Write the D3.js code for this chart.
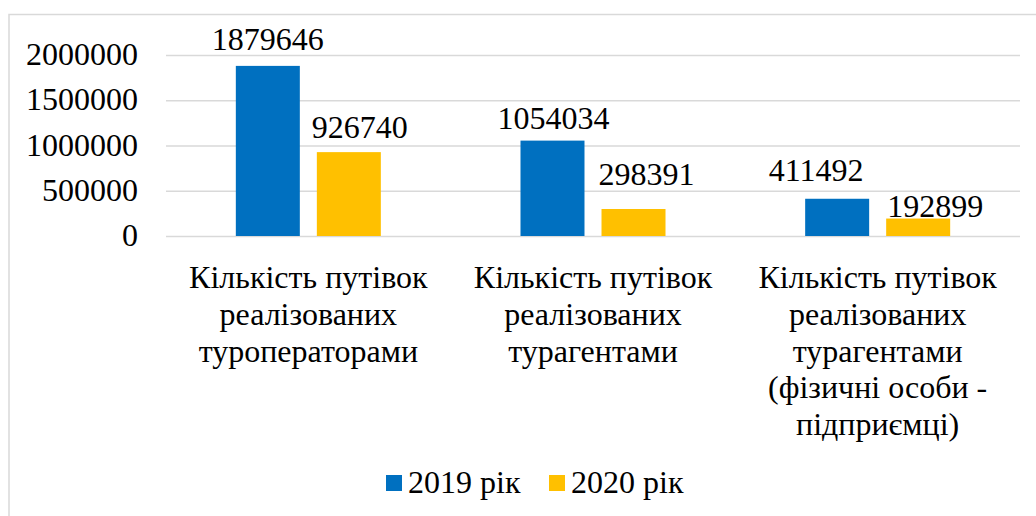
<!DOCTYPE html>
<head>
  <script src="https://d3js.org/d3.v7.min.js"></script>
  <style>
    body {
      margin: 0;
      overflow: hidden;
      background: #fff;
    }
  </style>
</head>
<body>
  <svg width="1036" height="516"></svg>
  <script>
    const categories = [
      ['Кількість путівок', 'реалізованих', 'туроператорами'],
      ['Кількість путівок', 'реалізованих', 'турагентами'],
      ['Кількість путівок', 'реалізованих', 'турагентами', '(фізичні особи -', 'підприємці)']
    ];
    const seriesNames = ['2019 рік', '2020 рік'];
    const values2019 = [1879646, 1054034, 411492];
    const values2020 = [926740, 298391, 192899];
    const yTicks = [0, 500000, 1000000, 1500000, 2000000];
    const colors = ['#0070c0', '#ffc000'];

    (function () {
      const svg = d3.select('svg');
      const fontSize = 32;
      const fontFamily = 'Liberation Serif, Times New Roman, serif';

      // hand-placed data labels in the original: [dx from bar centre, baseline above bar top]
      const labelNudge = [
        [[0, 16], [11, 14]],
        [[1, 12], [13, 24]],
        [[-21, 18], [17, 2]]
      ];

      // chart frame
      svg.append('rect')
        .attr('x', 9).attr('y', 14.5)
        .attr('width', 1040).attr('height', 520)
        .attr('fill', 'none')
        .attr('stroke', '#d9d9d9')
        .attr('stroke-width', 1.5);

      const plotLeft = 166, plotRight = 1020, plotTop = 55, plotBottom = 236;

      const x = d3.scaleBand()
        .domain(categories.map((d, i) => i))
        .range([plotLeft, plotRight]);

      const xInner = d3.scaleBand()
        .domain(seriesNames)
        .range([0, x.bandwidth()])
        .paddingInner(0.21)
        .paddingOuter(0.862);

      const y = d3.scaleLinear()
        .domain([0, 2000000])
        .range([plotBottom, plotTop]);

      // gridlines + tick labels
      const yAxis = d3.axisLeft(y)
        .tickValues(yTicks)
        .tickSize(-(plotRight - plotLeft))
        .tickPadding(28)
        .tickFormat(d3.format('d'));

      const yG = svg.append('g')
        .attr('transform', `translate(${plotLeft},0)`)
        .call(yAxis)
        .attr('font-family', fontFamily)
        .attr('font-size', fontSize);
      yG.select('.domain').remove();
      yG.selectAll('.tick line')
        .attr('stroke', '#d9d9d9')
        .attr('stroke-width', 1.5);
      yG.selectAll('.tick text')
        .attr('fill', '#000')
        .attr('dy', '0.3em');

      const data = categories.map((c, i) => ({
        i: i,
        vals: [
          { s: seriesNames[0], v: values2019[i], n: labelNudge[i][0] },
          { s: seriesNames[1], v: values2020[i], n: labelNudge[i][1] }
        ]
      }));

      const groups = svg.selectAll('g.cat').data(data)
        .enter().append('g')
        .attr('class', 'cat')
        .attr('font-family', fontFamily)
        .attr('transform', d => `translate(${x(d.i)},0)`);

      groups.selectAll('rect').data(d => d.vals)
        .enter().append('rect')
        .attr('x', d => xInner(d.s))
        .attr('y', d => y(d.v))
        .attr('width', xInner.bandwidth())
        .attr('height', d => y(0) - y(d.v))
        .attr('fill', (d, j) => colors[j]);

      groups.selectAll('text.val').data(d => d.vals)
        .enter().append('text')
        .attr('class', 'val')
        .attr('x', d => xInner(d.s) + xInner.bandwidth() / 2 + d.n[0])
        .attr('y', d => y(d.v) - d.n[1])
        .attr('text-anchor', 'middle')
        .attr('font-size', fontSize)
        .text(d => d.v);

      // category labels
      const catLabels = svg.selectAll('text.catlabel').data(categories)
        .enter().append('text')
        .attr('class', 'catlabel')
        .attr('text-anchor', 'middle')
        .attr('font-family', fontFamily)
        .attr('font-size', fontSize)
        .attr('transform', (d, i) => `translate(${x(i) + x.bandwidth() / 2},288)`);

      catLabels.selectAll('tspan').data(d => d)
        .enter().append('tspan')
        .attr('x', 0)
        .attr('y', (d, k) => k * 36.8)
        .text(d => d);

      // legend
      const legend = svg.append('g')
        .attr('font-family', fontFamily)
        .attr('transform', 'translate(386,475)');
      const legendOffsets = [0, 163];
      seriesNames.forEach((s, j) => {
        const lg = legend.append('g')
          .attr('transform', `translate(${legendOffsets[j]},0)`);
        lg.append('rect')
          .attr('width', 16).attr('height', 16)
          .attr('fill', colors[j]);
        lg.append('text')
          .attr('x', 22).attr('y', 18)
          .attr('font-size', fontSize)
          .text(s);
      });
    })();
  </script>
</body>
